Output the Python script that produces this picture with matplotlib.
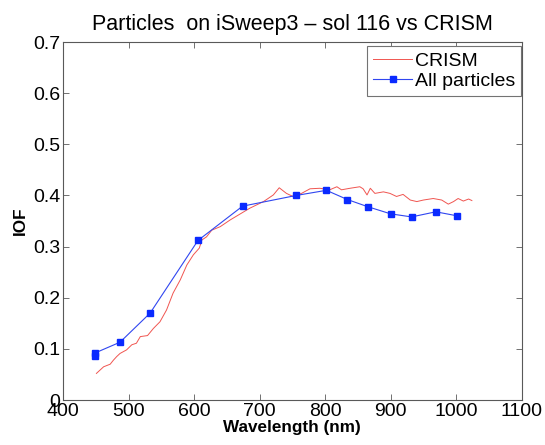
import matplotlib
matplotlib.use("Agg")
import matplotlib.pyplot as plt

plt.rcParams['font.family'] = ['Liberation Sans', 'DejaVu Sans']

# CRISM spectrum
crism_wl = [451, 462, 472, 477, 482, 487, 497, 505, 512, 518, 529, 538, 548, 558,
            568, 579, 589, 599, 608, 612, 619, 627, 640, 655, 685, 706, 721, 730,
            741, 751, 764, 777, 792, 807, 818, 825, 838, 853, 858, 864, 869, 876,
            889, 899, 909, 919, 930, 940, 950, 965, 978, 988, 996, 1003, 1011,
            1019, 1024]
crism_iof = [0.052, 0.065, 0.070, 0.078, 0.085, 0.091, 0.098, 0.108, 0.111, 0.124,
             0.126, 0.140, 0.153, 0.176, 0.209, 0.235, 0.264, 0.284, 0.297, 0.313,
             0.319, 0.332, 0.339, 0.352, 0.375, 0.388, 0.401, 0.415, 0.404, 0.398,
             0.404, 0.413, 0.414, 0.411, 0.417, 0.411, 0.414, 0.417, 0.413, 0.401,
             0.414, 0.404, 0.407, 0.404, 0.398, 0.402, 0.391, 0.388, 0.391, 0.394,
             0.391, 0.383, 0.388, 0.394, 0.389, 0.393, 0.390]

# particle measurements
part_wl = [449, 449, 487, 533, 606, 674, 756, 802, 834, 865, 900, 932, 969, 1002]
part_iof = [0.087, 0.092, 0.113, 0.170, 0.312, 0.379, 0.400, 0.410, 0.392, 0.378,
            0.364, 0.358, 0.368, 0.360]

fig = plt.figure(figsize=(5.45, 4.45), dpi=100)
ax = fig.add_axes([0.1156, 0.1011, 0.8416, 0.8045])

ax.plot(crism_wl, crism_iof, color='#f05550', lw=0.7, label='CRISM')
ax.plot(part_wl, part_iof, color='#3046f0', lw=0.8, marker='s', ms=4.5,
        mfc='#0a2aff', mec='#0a2aff', label='All particles')

ax.set_xlim(400, 1100)
ax.set_ylim(0, 0.7)
ax.set_xticks(range(400, 1101, 100))
ax.set_yticks([0, 0.1, 0.2, 0.3, 0.4, 0.5, 0.6, 0.7])
ax.set_yticklabels(['0', '0.1', '0.2', '0.3', '0.4', '0.5', '0.6', '0.7'])
ax.tick_params(direction='in', top=True, right=True, length=4, width=0.6,
               labelsize=14, color='0.35', pad=2)
for s in ax.spines.values():
    s.set_color('0.35')
    s.set_linewidth(0.8)

ax.set_xlabel('Wavelength (nm)', fontsize=12.3, fontweight='bold', labelpad=0)
ax.set_ylabel('IOF', fontsize=12.3, fontweight='bold', labelpad=4)
ax.set_title('Particles  on iSweep3 \u2013 sol 116 vs CRISM', fontsize=15.5, pad=9)

leg = ax.legend(loc='upper right', bbox_to_anchor=(0.999, 0.988), fontsize=14,
                fancybox=False, framealpha=1, edgecolor='0.45', handlelength=2.0,
                handletextpad=0.15, borderaxespad=0, labelspacing=0.15,
                borderpad=0.3)
leg.get_frame().set_linewidth(0.8)

fig.savefig('out.png', dpi=100)
